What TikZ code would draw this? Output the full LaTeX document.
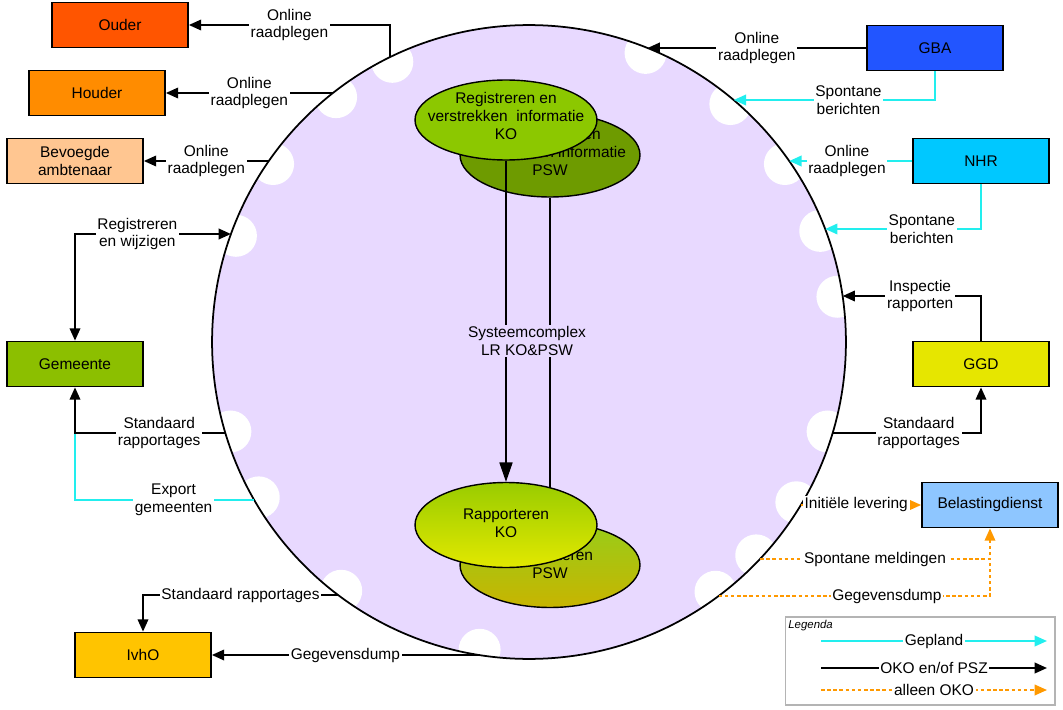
\documentclass[tikz,border=0pt]{standalone}
\usepackage{fontspec}
\setmainfont{Liberation Sans}
\usetikzlibrary{arrows.meta,shapes.geometric,calc}

\definecolor{ouderfill}{HTML}{FF5500}
\definecolor{houderfill}{HTML}{FF8C00}
\definecolor{ambtfill}{HTML}{FFC691}
\definecolor{gemfill}{HTML}{8CBF00}
\definecolor{ivhofill}{HTML}{FFC400}
\definecolor{gbafill}{HTML}{2255FF}
\definecolor{nhrfill}{HTML}{00C8FF}
\definecolor{ggdfill}{HTML}{E6E600}
\definecolor{belfill}{HTML}{8EC6FF}
\definecolor{lavender}{HTML}{E8D9FF}
\definecolor{planline}{HTML}{22EEEE}
\definecolor{okoline}{HTML}{FF9900}
\definecolor{legendgray}{HTML}{B4B4B4}
\definecolor{kogreen}{HTML}{8CC800}
\definecolor{pswgreen}{HTML}{6E9B00}

% points on the system circle (pixel units)
\newcommand\bndl[1]{529-317*sqrt(1-((#1-342)/317)^2)}
\newcommand\bndr[1]{529+317*sqrt(1-((#1-342)/317)^2)}
\newcommand\bndt[1]{342-317*sqrt(1-((#1-529)/317)^2)}

\tikzset{
  box/.style={draw, line width=1pt, minimum width=2.72cm, minimum height=0.9cm, align=center, inner sep=1pt},
  lbl/.style={fill=white, inner sep=1pt, align=center},
  tip/.style={-{Triangle[length=7pt,width=6pt]}},
  conn/.style={line width=1.1pt, tip},
  plan/.style={line width=1.1pt, draw=planline, tip},
  oko/.style={line width=1pt, draw=okoline, dash pattern=on 2pt off 1.5pt, tip},
  proc/.style={ellipse, draw, line width=0.8pt, inner sep=0pt},
}

\begin{document}
\begin{tikzpicture}[x=0.02cm, y=-0.02cm, font=\fontsize{8.8}{10.2}\selectfont]
\useasboundingbox (0,0) rectangle (1063,710);

% the system
\coordinate (c) at (529,342);
\coordinate (pOuder) at (390,{\bndt{390}});
\coordinate (pHouder) at ({\bndl{93}},93);
\coordinate (pBevoegd) at ({\bndl{161}},161);
\coordinate (pGemReg) at ({\bndl{234}},234);
\coordinate (pGemStd) at ({\bndl{433}},433);
\coordinate (pExport) at ({\bndl{500}},500);
\coordinate (pIvhoStd) at ({\bndl{595}},595);
\coordinate (pIvhoDump) at ({\bndl{655}},655);
\coordinate (pGbaOnl) at ({\bndr{48}},48);
\coordinate (pGbaSpon) at ({\bndr{100}},100);
\coordinate (pNhrOnl) at ({\bndr{161}},161);
\coordinate (pNhrSpon) at ({\bndr{229}},229);
\coordinate (pGgdInsp) at ({\bndr{296}},296);
\coordinate (pGgdStd) at ({\bndr{433}},433);
\coordinate (pBelInit) at ({\bndr{505}},505);
\coordinate (pBelSpon) at ({\bndr{559}},559);
\coordinate (pBelDump) at ({\bndr{596}},596);

\fill[lavender] (c) circle [radius=6.34cm];
\begin{scope}
  \clip (c) circle [radius=6.34cm];
  \foreach \p in {pOuder,pHouder,pBevoegd,pGemReg,pGemStd,pExport,pIvhoStd,pIvhoDump,
                  pGbaOnl,pGbaSpon,pNhrOnl,pNhrSpon,pGgdInsp,pGgdStd,pBelInit,pBelSpon,pBelDump}
    \fill[white] ($(\p)!3pt!(c)$) circle [radius=0.42cm];
\end{scope}
\draw[line width=1pt] (c) circle [radius=6.34cm];

% processes
\node (regpsw) [proc, fill=pswgreen, minimum width=3.6cm, minimum height=1.68cm] at (550,155) {};
\node (regpswtxt) [align=center] at (550,152) {Registreren en\\verstrekken informatie\\PSW};
\node (rappsw) [proc, top color=kogreen!90!white, bottom color={rgb,255:red,200;green,180;blue,0}, minimum width=3.6cm, minimum height=1.7cm] at (550,565) {};
\node (rappswtxt) [align=center] at (550,564) {Rapporteren\\PSW};
\node (regko) [proc, fill=kogreen, minimum width=3.64cm, minimum height=1.6cm] at (506,120) {};
\node (regkotxt) [align=center] at (506,116) {Registreren en\\verstrekken\ \ informatie\\KO};
\draw[line width=0.6pt] (regpsw.south) -- (rappsw.north);
\node (rapko) [proc, top color={rgb,255:red,153;green,204;blue,0}, bottom color={rgb,255:red,226;green,232;blue,0}, minimum width=3.64cm, minimum height=1.7cm] at (506,525) {};
\node (rapkotxt) [align=center] at (506,523) {Rapporteren\\KO};
\draw[line width=0.6pt, -{Triangle[length=11pt,width=7.5pt]}] (regko.south) -- (rapko.north);
\node (syslbl) [fill=lavender, inner sep=1pt, align=center] at (527,341) {Systeemcomplex\\LR KO\&PSW};

% parties
\node (ouder) [box, fill=ouderfill] at (120,25) {Ouder};
\node (houder) [box, fill=houderfill] at (97,93) {Houder};
\node (bevoegd) [box, fill=ambtfill] at (75,161) {Bevoegde\\ambtenaar};
\node (gemeente) [box, fill=gemfill] at (75,364) {Gemeente};
\node (ivho) [box, fill=ivhofill] at (143,655) {IvhO};
\node (gba) [box, fill=gbafill] at (935,48) {GBA};
\node (nhr) [box, fill=nhrfill] at (981,161) {NHR};
\node (ggd) [box, fill=ggdfill] at (981,364) {GGD};
\node (bel) [box, fill=belfill] at (990,505) {Belastingdienst};

% left side
\draw[conn] (pOuder) |- (ouder.east) node[lbl, pos=0.75] (lOuder) {Online\\raadplegen};
\draw[conn] (pHouder) -- (houder.east) node[lbl, midway] (lHouder) {Online\\raadplegen};
\draw[conn] (pBevoegd) -- (bevoegd.east) node[lbl, midway] (lBevoegd) {Online\\raadplegen};
\draw[conn, {Triangle[length=7pt,width=6pt]}-{Triangle[length=7pt,width=6pt]}] (gemeente.north) |- (pGemReg) node[lbl, pos=0.7] (lGemReg) {Registreren\\en wijzigen};
\coordinate (jGem) at (gemeente.south |- pGemStd);
\draw[plan, -] (pExport) -| (jGem) node[lbl, pos=0.225] (lExport) {Export\\gemeenten};
\draw[conn] (pGemStd) -| (gemeente.south) node[lbl, pos=0.22] (lGemStd) {Standaard\\rapportages};
\draw[conn] (pIvhoStd) -| (ivho.north) node[lbl, pos=0.25] (lIvhoStd) {Standaard rapportages};
\draw[conn] (pIvhoDump) -- (ivho.east) node[lbl, midway] (lIvhoDump) {Gegevensdump};

% right side
\draw[conn] (gba.west) -- (pGbaOnl) node[lbl, midway] (lGbaOnl) {Online\\raadplegen};
\draw[plan] (gba.south) |- (pGbaSpon) node[lbl, pos=0.715] (lGbaSpon) {Spontane\\berichten};
\draw[plan] (nhr.west) -- (pNhrOnl) node[lbl, pos=0.53] (lNhrOnl) {Online\\raadplegen};
\draw[plan] (nhr.south) |- (pNhrSpon) node[lbl, pos=0.69] (lNhrSpon) {Spontane\\berichten};
\draw[conn] (ggd.north) |- (pGgdInsp) node[lbl, pos=0.72] (lGgdInsp) {Inspectie\\rapporten};
\draw[conn] (pGgdStd) -| (ggd.south) node[lbl, pos=0.29] (lGgdStd) {Standaard\\rapportages};
\draw[oko] (pBelInit) -- (bel.west) node[lbl, pos=0.46] (lBelInit) {Initiële levering};
\coordinate (jBel) at (bel.south |- pBelSpon);
\draw[oko, -] (pBelDump) -| (jBel) node[lbl, pos=0.31] (lBelDump) {Gegevensdump};
\draw[oko] (pBelSpon) -| (bel.south) node[lbl, pos=0.25] (lBelSpon) {Spontane meldingen};

% legend
\node (legend) [draw=legendgray, line width=0.6pt, minimum width=5.4cm, minimum height=1.76cm] at (920,661) {};
\node (legtitle) [anchor=north west, inner sep=2pt, font=\fontsize{6.5}{7}\selectfont\itshape] at (legend.north west) {Legenda};
\coordinate (lgPlanA) at (821,641);
\coordinate (lgPlanB) at (1047,641);
\coordinate (lgOkoPszA) at (821,668);
\coordinate (lgOkoPszB) at (1047,668);
\coordinate (lgOkoA) at (821,690);
\coordinate (lgOkoB) at (1047,690);
\draw[plan] (lgPlanA) -- (lgPlanB) node[lbl, midway] (lgPlan) {Gepland};
\draw[conn] (lgOkoPszA) -- (lgOkoPszB) node[lbl, midway] (lgOkoPsz) {OKO en/of PSZ};
\draw[oko] (lgOkoA) -- (lgOkoB) node[lbl, midway] (lgOko) {alleen OKO};
\end{tikzpicture}
\end{document}
